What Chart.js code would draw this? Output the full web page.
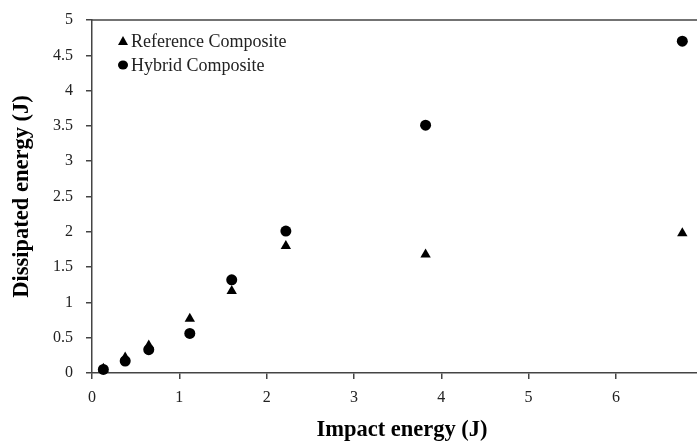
<!DOCTYPE html>
<html>
<head>
<meta charset="utf-8">
<script src="https://cdn.jsdelivr.net/npm/chart.js@4/dist/chart.umd.min.js"></script>
<style>
  html, body { margin: 0; padding: 0; background: #fff; overflow: hidden; }
  #wrap { width: 697px; height: 444px; overflow: hidden; }
</style>
</head>
<body>
<div id="wrap"><canvas id="energyChart" width="712" height="444"></canvas></div>
<script>
// impact energy (J) for each test
var impactEnergy = [0.13, 0.38, 0.65, 1.12, 1.6, 2.22, 3.82, 6.76];
// dissipated energy (J)
var referenceDissipated = [0.06, 0.22, 0.39, 0.77, 1.16, 1.80, 1.68, 1.98];
var hybridDissipated    = [0.05, 0.17, 0.33, 0.56, 1.32, 2.01, 3.51, 4.70];

var seriesNames = ["Reference Composite", "Hybrid Composite"];

function toPoints(xs, ys) {
    return xs.map(function(x, i) { return { x: x, y: ys[i] }; });
}

var axisColor = '#444';
var serif = '"Liberation Serif", "Times New Roman", serif';

// legend inside plot + top border line
var plotExtras = {
    id: 'plotExtras',
    afterDraw: function(chart) {
        var ctx = chart.ctx;
        var area = chart.chartArea;
        ctx.save();
        ctx.strokeStyle = axisColor;
        ctx.lineWidth = 1.5;
        ctx.beginPath();
        ctx.moveTo(area.left, area.top);
        ctx.lineTo(area.right, area.top);
        ctx.stroke();

        var lx = 123;
        var ly = 41;
        ctx.fillStyle = '#000';
        // triangle
        ctx.beginPath();
        ctx.moveTo(lx, ly - 5);
        ctx.lineTo(lx + 5, ly + 4);
        ctx.lineTo(lx - 5, ly + 4);
        ctx.closePath();
        ctx.fill();
        // circle
        ctx.beginPath();
        ctx.ellipse(lx, ly + 24, 5, 4.5, 0, 0, 2 * Math.PI);
        ctx.fill();

        ctx.font = '18px ' + serif;
        ctx.textBaseline = 'alphabetic';
        ctx.fillStyle = '#222';
        ctx.fillText(seriesNames[0], 131, 47);
        ctx.fillText(seriesNames[1], 131, 71);
        ctx.restore();
    }
};

var ctx1 = document.getElementById("energyChart");
var energyChart = new Chart(ctx1, {
    type: 'scatter',
    data: {
        datasets: [
            {
                label: seriesNames[0],
                data: toPoints(impactEnergy, referenceDissipated),
                pointStyle: 'triangle',
                pointRadius: 6,
                backgroundColor: '#000',
                borderColor: '#000',
                borderWidth: 0
            },
            {
                label: seriesNames[1],
                data: toPoints(impactEnergy, hybridDissipated),
                pointStyle: 'circle',
                pointRadius: 5.5,
                backgroundColor: '#000',
                borderColor: '#000',
                borderWidth: 0
            }
        ]
    },
    options: {
        responsive: false,
        animation: false,
        clip: false,
        layout: { autoPadding: false, padding: { top: 20, right: 0, left: 0, bottom: 0 } },
        plugins: {
            legend: { display: false },
            tooltip: { enabled: false }
        },
        scales: {
            x: {
                type: 'linear',
                min: 0,
                max: 7.1,
                afterFit: function(scale) {
                    scale.height = 71;
                    scale.paddingLeft = 0;
                    scale.paddingRight = 0;
                },
                border: { display: true, color: axisColor, width: 1.5 },
                grid: { display: true, drawOnChartArea: false, drawTicks: true, tickLength: 6, color: axisColor, lineWidth: 1.5 },
                ticks: {
                    stepSize: 1,
                    includeBounds: false,
                    padding: 9,
                    color: '#222',
                    font: { family: serif, size: 16 },
                    callback: function(v) { return String(v); }
                },
                title: {
                    display: true,
                    text: 'Impact energy (J)',
                    color: '#000',
                    font: { family: serif, size: 22.5, weight: 'bold' },
                    padding: { top: 10, bottom: 0 }
                }
            },
            y: {
                type: 'linear',
                min: 0,
                max: 5,
                afterFit: function(scale) {
                    scale.width = 92;
                    scale.paddingTop = 0;
                    scale.paddingBottom = 0;
                },
                border: { display: true, color: axisColor, width: 1.5 },
                grid: { display: true, drawOnChartArea: false, drawTicks: true, tickLength: 6, color: axisColor, lineWidth: 1.5 },
                ticks: {
                    stepSize: 0.5,
                    padding: 13,
                    color: '#222',
                    font: { family: serif, size: 16 },
                    callback: function(v) { return String(v); }
                },
                title: {
                    display: true,
                    text: 'Dissipated energy (J)',
                    color: '#000',
                    font: { family: serif, size: 22.5, weight: 'bold' },
                    padding: { top: 9, bottom: 0 }
                }
            }
        }
    },
    plugins: [plotExtras]
});
</script>
</body>
</html>
